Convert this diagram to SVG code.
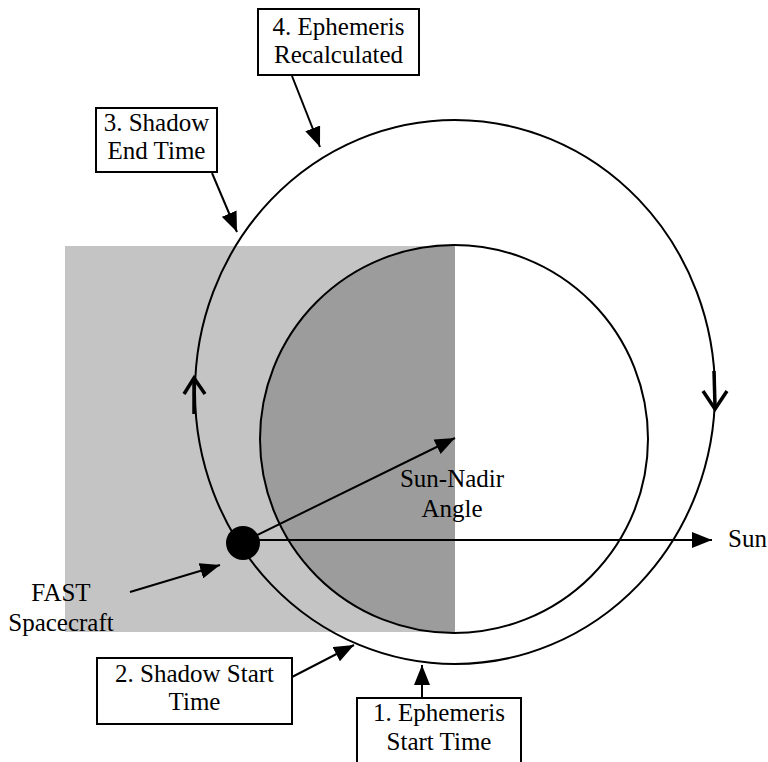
<svg xmlns="http://www.w3.org/2000/svg" width="768" height="762" viewBox="0 0 768 762">
  <style>
    .lbl { font-family: "Liberation Serif", "Times New Roman", serif; font-size: 25px; fill: #000; }
    .box { fill: #fff; stroke: #000; stroke-width: 2; }
    .ln { stroke: #000; stroke-width: 2; fill: none; }
    .dir { stroke: #000; stroke-width: 3.5; fill: none; stroke-linecap: butt; }
  </style>
  <defs>
    <marker id="ah" markerUnits="userSpaceOnUse" markerWidth="20" markerHeight="16" refX="20" refY="8" orient="auto">
      <path d="M0,0 L20,8 L0,16 Z" fill="#000"/>
    </marker>
    <clipPath id="leftHalf">
      <rect x="0" y="0" width="455" height="762"/>
    </clipPath>
  </defs>
  <rect width="768" height="762" fill="#fff"/>

  <g id="shadow">
    <rect x="65" y="246" width="390" height="386" fill="#c4c4c4"/>
    <circle cx="454" cy="439" r="194" fill="#9c9c9c" clip-path="url(#leftHalf)"/>
  </g>

  <g id="earth">
    <circle cx="454" cy="439" r="194" class="ln"/>
  </g>

  <g id="orbit">
    <ellipse cx="455" cy="392" rx="260" ry="272" class="ln"/>
    <path class="dir" d="M194,414 L194,380"/>
    <path class="dir" d="M184,394 L194,378 L205,394"/>
    <path class="dir" d="M714,371 L715,406"/>
    <path class="dir" d="M703,391 L715,409 L727,391"/>
  </g>

  <g id="connectors">
    <line class="ln" x1="292" y1="76" x2="320" y2="147" marker-end="url(#ah)"/>
    <line class="ln" x1="212" y1="173" x2="237" y2="232" marker-end="url(#ah)"/>
    <line class="ln" x1="292" y1="677" x2="354" y2="645" marker-end="url(#ah)"/>
    <line class="ln" x1="422" y1="698" x2="422" y2="665" marker-end="url(#ah)"/>
    <line class="ln" x1="130" y1="592" x2="220" y2="565" marker-end="url(#ah)"/>
    <line class="ln" x1="243" y1="540" x2="712" y2="540" marker-end="url(#ah)"/>
    <line class="ln" x1="243" y1="542" x2="455" y2="438" marker-end="url(#ah)"/>
  </g>

  <g id="spacecraft">
    <circle cx="243" cy="543" r="17" fill="#000"/>
  </g>

  <g id="box4">
    <rect class="box" x="258" y="9" width="161" height="66"/>
    <text class="lbl" x="338.5" y="35" text-anchor="middle">4. Ephemeris</text>
    <text class="lbl" x="338.5" y="63" text-anchor="middle">Recalculated</text>
  </g>

  <g id="box3">
    <rect class="box" x="96" y="108" width="121" height="64"/>
    <text class="lbl" x="156.5" y="131" text-anchor="middle">3. Shadow</text>
    <text class="lbl" x="156.5" y="159" text-anchor="middle">End Time</text>
  </g>

  <g id="box2">
    <rect class="box" x="97" y="658" width="195" height="66"/>
    <text class="lbl" x="194.5" y="682" text-anchor="middle">2. Shadow Start</text>
    <text class="lbl" x="194.5" y="710" text-anchor="middle">Time</text>
  </g>

  <g id="box1">
    <rect class="box" x="357" y="698" width="164" height="80"/>
    <text class="lbl" x="439" y="721" text-anchor="middle">1. Ephemeris</text>
    <text class="lbl" x="439" y="750" text-anchor="middle">Start Time</text>
  </g>

  <g id="labels">
    <text class="lbl" x="452" y="487" text-anchor="middle">Sun-Nadir</text>
    <text class="lbl" x="452" y="517" text-anchor="middle">Angle</text>
    <text class="lbl" x="728" y="547">Sun</text>
    <text class="lbl" x="61" y="601" text-anchor="middle">FAST</text>
    <text class="lbl" x="61" y="631" text-anchor="middle">Spacecraft</text>
  </g>
</svg>
